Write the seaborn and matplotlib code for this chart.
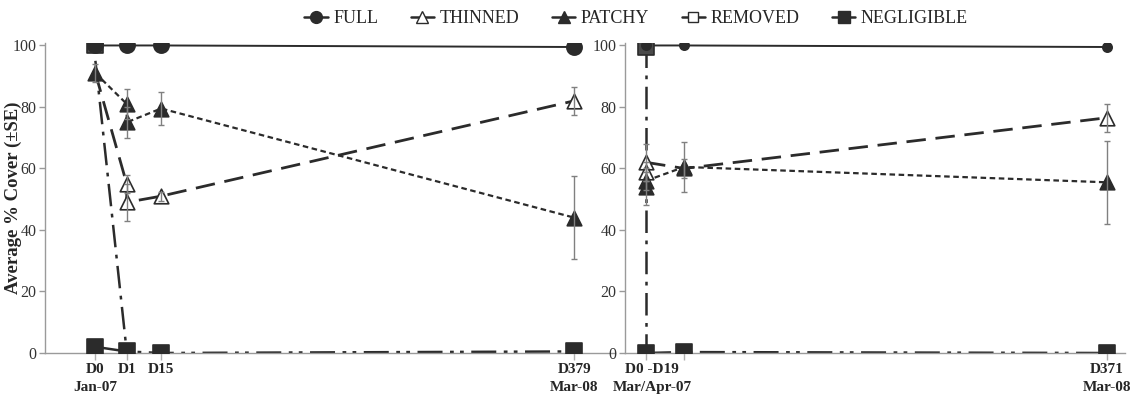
import matplotlib
matplotlib.use("Agg")
import matplotlib.pyplot as plt
from matplotlib.lines import Line2D
import seaborn as sns
import pandas as pd

sns.set_theme(style="white")
plt.rcParams["font.family"] = ["Liberation Serif", "DejaVu Serif"]

# ---------------- data ----------------
legend_labels = ["FULL", "THINNED", "PATCHY", "REMOVED", "NEGLIGIBLE"]

# left panel (Jan-07 start)
L_full_x = ["D0", "D1", "D15", "D379"]
L_full_y = [100, 100, 100, 99.5]
L_thin_x = ["D0", "D1", "D1", "D15", "D379"]
L_thin_y = [91, 55, 49, 51, 82]
L_patch_x = ["D0", "D1", "D1", "D15", "D379"]
L_patch_y = [91, 81, 75, 79.5, 44]
L_rem_x = ["D0", "D1"]
L_rem_y = [95, 0.5]
L_neg_x = ["D0", "D1", "D15", "D379"]
L_neg_y = [2, 0.5, 0, 0.5]

L_pt_full_x = ["D0", "D1", "D15", "D379"]
L_pt_full_y = [100, 100, 100, 99.5]
L_pt_thin_x = ["D1", "D1", "D15", "D379"]
L_pt_thin_y = [55, 49, 51, 82]
L_pt_thin_se = [3, 6, 1.5, 4.5]
L_pt_patch_x = ["D0", "D1", "D1", "D15", "D379"]
L_pt_patch_y = [91, 81, 75, 79.5, 44]
L_pt_patch_se = [3, 5, 5, 5.5, 13.5]
L_pt_rem_x = ["D0"]
L_pt_rem_y = [100]
L_pt_neg_x = ["D0", "D1", "D15", "D379"]
L_pt_neg_y = [2, 0.5, 0, 0.5]

# right panel (Mar/Apr-07 start)
R_full_x = ["D0", "D19", "D371"]
R_full_y = [100, 100, 99.5]
R_thin_x = ["D0", "D19", "D371"]
R_thin_y = [62, 60, 76.5]
R_patch_x = ["D0", "D19", "D371"]
R_patch_y = [56, 60.5, 55.5]
R_rem_x = ["D0", "D0"]
R_rem_y = [100, 0]
R_neg_x = ["D0", "D19", "D371"]
R_neg_y = [0, 0.3, 0]

R_pt_full_x = ["D0", "D19", "D371"]
R_pt_full_y = [100, 100, 99.5]
R_pt_thin_x = ["D0", "D0", "D19", "D371"]
R_pt_thin_y = [62, 59, 60, 76.5]
R_pt_thin_se = [6, 3, 3, 4.5]
R_pt_patch_x = ["D0", "D0", "D19", "D371"]
R_pt_patch_y = [56, 54, 60.5, 55.5]
R_pt_patch_se = [3, 6, 8, 13.5]
R_pt_rem_x = ["D0"]
R_pt_rem_y = [99.5]
R_pt_neg_x = ["D0", "D19", "D371"]
R_pt_neg_y = [0, 0.3, 0]

L_tick_keys = ["D0", "D1", "D15", "D379"]
L_tick_labels = ["D0\nJan-07", "D1", "D15", "D379\nMar-08"]
R_tick_keys = ["D0", "D19", "D371"]
R_tick_labels = ["", "", "D371\nMar-08"]
R_group_label = "D0 -D19\nMar/Apr-07"

y_ticks = [0, 20, 40, 60, 80, 100]

# ---------------- layout / style ----------------
L_pos = {"D0": 0, "D1": 1, "D15": 2.1, "D379": 15.3}
R_pos = {"D0": 0, "D19": 1.23, "D371": 14.87}
R_group_pos = 0.2

DARK = "#2b2b2b"
GRAY = "#808080"
ls_full = "-"
ls_thin = (0, (7, 3.5))
ls_patch = (0, (2.5, 1.6))
ls_rem = (0, (9, 3, 1.5, 3))
ls_neg = (0, (10, 3, 1.5, 2.5, 1.5, 3))

fig = plt.figure(figsize=(11.32, 3.96), dpi=100)
axL = fig.add_axes([45 / 1132, 1 - 353 / 396, 545 / 1132, 310 / 396])
axR = fig.add_axes([625 / 1132, 1 - 353 / 396, 500 / 1132, 310 / 396])


def draw_line(ax, pos, xs, ys, ls, lw):
    df = pd.DataFrame({"x": [pos[k] for k in xs], "y": ys})
    sns.lineplot(data=df, x="x", y="y", ax=ax, estimator=None, sort=False,
                 color=DARK, linewidth=lw, linestyle=ls, zorder=2)


def draw_pts(ax, pos, xs, ys, marker, size, face, se=None):
    df = pd.DataFrame({"x": [pos[k] for k in xs], "y": ys})
    if se is not None:
        ax.errorbar(df["x"], df["y"], yerr=se, fmt="none", ecolor=GRAY,
                    elinewidth=1, capsize=2.5, capthick=1, zorder=5)
    sns.scatterplot(data=df, x="x", y="y", ax=ax, marker=marker, s=size,
                    color=face, edgecolor=DARK, linewidth=1.2, zorder=4)


def panel(ax, pos, d, circle_size):
    draw_line(ax, pos, d["full_x"], d["full_y"], ls_full, 1.4)
    draw_line(ax, pos, d["thin_x"], d["thin_y"], ls_thin, 2.0)
    draw_line(ax, pos, d["patch_x"], d["patch_y"], ls_patch, 1.6)
    draw_line(ax, pos, d["rem_x"], d["rem_y"], ls_rem, 1.8)
    draw_line(ax, pos, d["neg_x"], d["neg_y"], ls_neg, 1.8)
    draw_pts(ax, pos, d["pt_rem_x"], d["pt_rem_y"], "s", 120, "#4a4a4a")
    draw_pts(ax, pos, d["pt_full_x"], d["pt_full_y"], "o", circle_size, DARK)
    draw_pts(ax, pos, d["pt_thin_x"], d["pt_thin_y"], "^", 110, "white", d["pt_thin_se"])
    draw_pts(ax, pos, d["pt_patch_x"], d["pt_patch_y"], "^", 110, DARK, d["pt_patch_se"])
    draw_pts(ax, pos, d["pt_neg_x"], d["pt_neg_y"], "s", 120, DARK)


Ld = dict(full_x=L_full_x, full_y=L_full_y, thin_x=L_thin_x, thin_y=L_thin_y,
          patch_x=L_patch_x, patch_y=L_patch_y, rem_x=L_rem_x, rem_y=L_rem_y,
          neg_x=L_neg_x, neg_y=L_neg_y,
          pt_full_x=L_pt_full_x, pt_full_y=L_pt_full_y,
          pt_thin_x=L_pt_thin_x, pt_thin_y=L_pt_thin_y, pt_thin_se=L_pt_thin_se,
          pt_patch_x=L_pt_patch_x, pt_patch_y=L_pt_patch_y, pt_patch_se=L_pt_patch_se,
          pt_rem_x=L_pt_rem_x, pt_rem_y=L_pt_rem_y,
          pt_neg_x=L_pt_neg_x, pt_neg_y=L_pt_neg_y)
Rd = dict(full_x=R_full_x, full_y=R_full_y, thin_x=R_thin_x, thin_y=R_thin_y,
          patch_x=R_patch_x, patch_y=R_patch_y, rem_x=R_rem_x, rem_y=R_rem_y,
          neg_x=R_neg_x, neg_y=R_neg_y,
          pt_full_x=R_pt_full_x, pt_full_y=R_pt_full_y,
          pt_thin_x=R_pt_thin_x, pt_thin_y=R_pt_thin_y, pt_thin_se=R_pt_thin_se,
          pt_patch_x=R_pt_patch_x, pt_patch_y=R_pt_patch_y, pt_patch_se=R_pt_patch_se,
          pt_rem_x=R_pt_rem_x, pt_rem_y=R_pt_rem_y,
          pt_neg_x=R_pt_neg_x, pt_neg_y=R_pt_neg_y)

panel(axL, L_pos, Ld, 120)
panel(axR, R_pos, Rd, 45)

for ax in (axL, axR):
    ax.set_ylim(0, 100.8)
    ax.set_yticks(y_ticks)
    ax.set_xlabel("")
    ax.set_ylabel("")
    for s in ("top", "right"):
        ax.spines[s].set_visible(False)
    for s in ("left", "bottom"):
        ax.spines[s].set_color("#9a9a9a")
        ax.spines[s].set_linewidth(1.0)
    ax.tick_params(axis="y", which="major", direction="out", length=4, width=1,
                   color="#9a9a9a", labelsize=11.5, labelcolor="#333333", pad=2, left=True)
    ax.tick_params(axis="x", which="major", direction="out", length=5, width=1,
                   color="#b0b0b0", bottom=True, labelsize=11, pad=2)
    ax.tick_params(axis="x", which="minor", length=0, labelsize=11, pad=7)
    ax.set_facecolor("white")

axL.set_xlim(-1.61, 15.8)
axR.set_xlim(-0.68, 15.45)
axL.spines["bottom"].set_bounds(-1.61, 16.6)

axL.set_xticks([L_pos[k] for k in L_tick_keys])
axL.set_xticklabels(L_tick_labels, fontweight="bold", linespacing=1.5)
axR.set_xticks([R_pos[k] for k in R_tick_keys])
axR.set_xticklabels(R_tick_labels, fontweight="bold", linespacing=1.5)
axR.set_xticks([R_group_pos], minor=True)
axR.set_xticklabels([R_group_label], minor=True, fontweight="bold", linespacing=1.5)

axL.set_ylabel("Average % Cover (±SE)", fontweight="bold", fontsize=13.5)
axL.yaxis.set_label_coords(-0.043, 0.5)

handles = [
    Line2D([], [], color=DARK, lw=1.8, marker="o", ms=8.5, mfc=DARK, mec=DARK),
    Line2D([], [], color=DARK, lw=1.8, marker="^", ms=8.5, mfc="white", mec=DARK),
    Line2D([], [], color=DARK, lw=1.8, marker="^", ms=8.5, mfc=DARK, mec=DARK),
    Line2D([], [], color=DARK, lw=1.8, marker="s", ms=7.5, mfc="white", mec=DARK),
    Line2D([], [], color=DARK, lw=1.8, marker="s", ms=8.5, mfc=DARK, mec=DARK),
]
fig.legend(handles, legend_labels, loc="upper center", bbox_to_anchor=(0.562, 1.015),
           ncol=5, frameon=False, fontsize=13, handlelength=1.3, handletextpad=0.3,
           columnspacing=1.8)

fig.savefig("out.png", dpi=100, facecolor="white")
